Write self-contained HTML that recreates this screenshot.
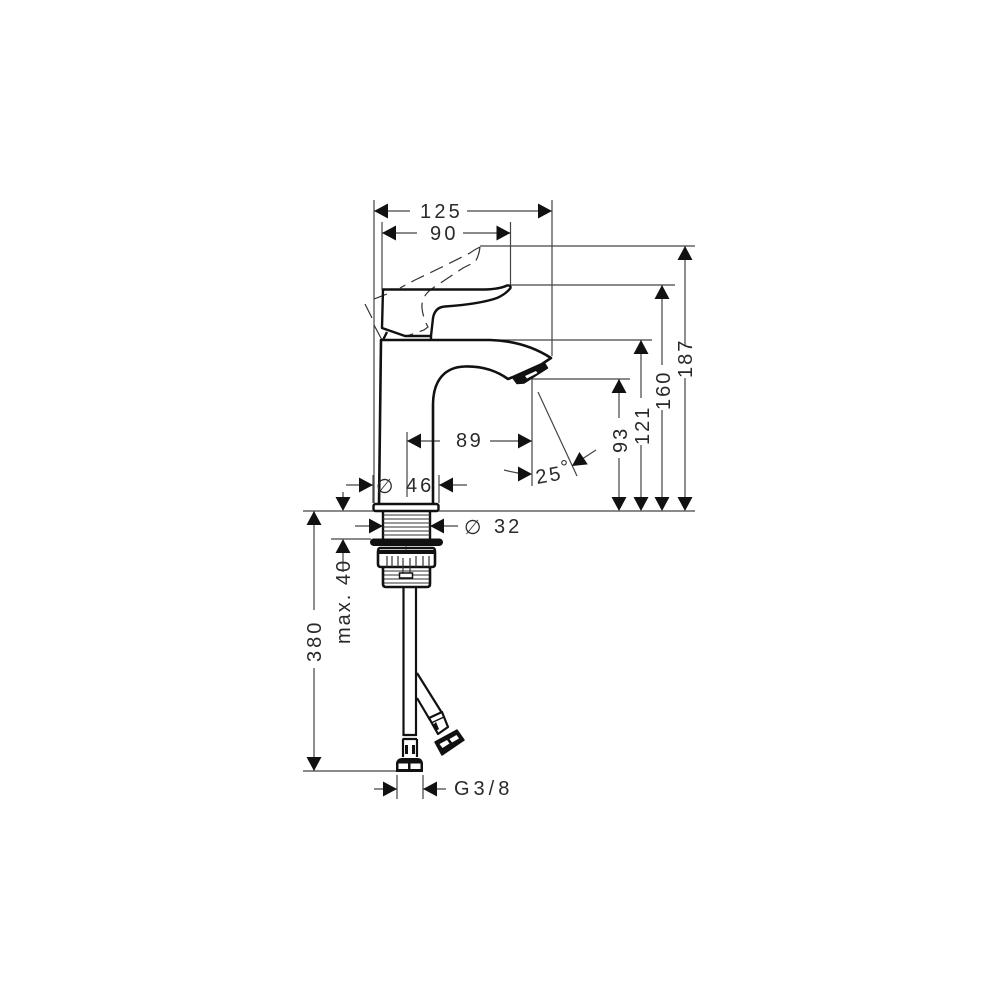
<!DOCTYPE html>
<html><head><meta charset="utf-8"><style>
html,body{margin:0;padding:0;background:#fff}
svg{display:block}
text{font-family:"Liberation Sans",sans-serif;font-size:20px;fill:#2a2a2a}
</style></head><body>
<svg width="1000" height="1000" viewBox="0 0 1000 1000" xmlns="http://www.w3.org/2000/svg">
<defs>
<path id="r" d="M0 0L-14 -7.500V7.500Z" fill="#111"/>
</defs>
<!-- thin extension and dim lines -->
<g stroke="#444" stroke-width="1.200" fill="none">
<path d="M374 200V503M552 200V356M382 222V290M510.500 222V285"/>
<path d="M374 211H410M467 211H552M382 233H417M463 233H510"/>
<path d="M480 246H695M510 285H675M430 340H652M532 379H630"/>
<path d="M685 246V346M685 378V497M662 285V365M662 410V497M641 340V398M641 445V497M619 379V418M619 458V497"/>
<path d="M303 511H695"/>
<path d="M314 511V610M314 668V771M303 771H396M331 539H371"/>
<path d="M407 432V497M532 379V486M407 441H440M490 441H532"/>
<path d="M346 485H373M439 485H467M373 475V503M439 475V503"/>
<path d="M355 526H383M430 526H458M343 492V500M343 552V572"/>
<path d="M374 789H397M423 789H446M397 775V799M423 775V799"/>
<path d="M504 470Q515 473 525 474M538 392L577 476M596 450L576 463"/>
</g>
<!-- arrows -->
<g>
<use href="#r" transform="translate(374,211) rotate(180)"/>
<use href="#r" transform="translate(552,211)"/>
<use href="#r" transform="translate(382,233) rotate(180)"/>
<use href="#r" transform="translate(510.500,233)"/>
<use href="#r" transform="translate(685,246) rotate(-90)"/>
<use href="#r" transform="translate(685,511) rotate(90)"/>
<use href="#r" transform="translate(662,285) rotate(-90)"/>
<use href="#r" transform="translate(662,511) rotate(90)"/>
<use href="#r" transform="translate(641,340) rotate(-90)"/>
<use href="#r" transform="translate(641,511) rotate(90)"/>
<use href="#r" transform="translate(619,379) rotate(-90)"/>
<use href="#r" transform="translate(619,511) rotate(90)"/>
<use href="#r" transform="translate(407,441) rotate(180)"/>
<use href="#r" transform="translate(532,441)"/>
<use href="#r" transform="translate(532,474)"/>
<use href="#r" transform="translate(572,466) rotate(146)"/>
<use href="#r" transform="translate(373,485)"/>
<use href="#r" transform="translate(439,485) rotate(180)"/>
<use href="#r" transform="translate(383,526)"/>
<use href="#r" transform="translate(430,526) rotate(180)"/>
<use href="#r" transform="translate(343,511) rotate(90)"/>
<use href="#r" transform="translate(343,539) rotate(-90)"/>
<use href="#r" transform="translate(314,511) rotate(-90)"/>
<use href="#r" transform="translate(314,771) rotate(90)"/>
<use href="#r" transform="translate(397,789)"/>
<use href="#r" transform="translate(423,789) rotate(180)"/>
</g>
<!-- dashed handle -->
<g stroke="#333" stroke-width="1.200" fill="none" stroke-dasharray="14 7">
<path d="M480 247Q474 250 470 253L440 268L415 280L400 288"/>
<path d="M387 294L374 299"/>
<path d="M480 247Q479 256 475 262L463 268L433 288Q421 296 422 308Q423 318 428 327L424 330L407 336"/>
<path d="M365 304L372 318" stroke-dasharray="16 0"/>
<path d="M374 325L382 340" stroke-dasharray="16 0"/>
</g>
<!-- faucet -->
<g stroke="#111" stroke-width="2.400" fill="none" stroke-linejoin="round">
<path d="M383 289.500H485Q500 289 507 285.500Q511 285 510.500 288Q506 294 497 298Q480 304 445 306.500Q435 307 433 318L431 336H405L382 328Z" fill="none"/>
<path d="M387 332L383 340"/>
<path d="M379 505L381 340H490Q525 341 551 358L542 364L513 377L508 379C498 372 485 366 465 366.500C445 367 433 380 433 405V505" stroke-width="2.600"/>
<path d="M431 336V340"/>
<rect x="373.500" y="504" width="65" height="7" rx="2"/>
<path d="M383 511V539M430 511V539"/>
</g>
<!-- aerator -->
<path d="M513 378L545 364L547.500 368L524 383L517 383.500Z" fill="#111" stroke="#111" stroke-width="1.500" stroke-linejoin="round"/>
<path d="M525 376L536 371L537.500 373L527 378.500Z" fill="#fff"/>
<g stroke="#333" stroke-width="1">
<path d="M383 515H430M383 519H430M383 523H430M383 527H430M383 531H430M383 535H430"/>
<path d="M384 575H429M384 579H429M384 583H429M384 571H429"/>
</g>
<rect x="370" y="538.500" width="73" height="7.500" rx="3.700" fill="#111"/>
<circle cx="406" cy="548" r="1.500" fill="#111"/>
<g stroke="#111" stroke-width="2.600" fill="none" stroke-linejoin="round">
<path d="M380 548H433Q435 548 435 552V564Q435 567 432 567H381Q378 567 378 564V552Q378 548 380 548Z"/>
<path d="M383 567V584Q383 587 386 587H427Q430 587 430 584V567"/>
<path d="M379 552H434" stroke-width="4"/>
</g>
<g stroke="#333" stroke-width="1.200" fill="none">
<path d="M387 556V567M392 556V567M398 556V567M416 556V567M423 556V567M429 556V567"/>
<path d="M403 558V574H410V558"/>
</g>
<rect x="399.500" y="573" width="13" height="5" fill="#fff" stroke="#111" stroke-width="1.500"/>
<!-- hoses -->
<g stroke="#111" stroke-width="2.200" fill="none" stroke-linejoin="round">
<path d="M403.500 587V736M416 587V736"/>
<path d="M417 673L442 713M417 698L430 720"/>
<path d="M403 735H416.500M402.500 739H417M403 739V757M417 739V757"/>
<path d="M429 718L442 712L448 727L438 734Z"/>
<path d="M431 723L444 717" stroke-width="1.500"/>
</g>
<!-- straight connector nut -->
<path d="M396 772V763Q397 758 402 758H418Q422 758 423 763V772Z" fill="#111"/>
<rect x="398.500" y="763.500" width="9.500" height="5.500" fill="#fff"/>
<rect x="410.500" y="763.500" width="10" height="5.500" fill="#fff"/>
<!-- angled connector nut -->
<path d="M435 742L457 730L464 740L442 755Z" fill="#111" stroke="#111" stroke-width="1.500" stroke-linejoin="round"/>
<path d="M439.500 744L447 740L449.500 743.500L442.500 748Z" fill="#fff"/>
<path d="M449.500 739L456.500 735L459 738.500L452 742.500Z" fill="#fff"/>
<g fill="#111">
<rect x="405" y="745" width="3" height="9"/>
<rect x="412" y="745" width="3" height="9"/>
<path d="M436 722L439 729L436 731L433 725Z"/>
</g>
<!-- labels -->
<text x="420" y="218" letter-spacing="3.200">125</text>
<text x="430" y="240" letter-spacing="3.200">90</text>
<text x="456" y="447" letter-spacing="2.500">89</text>
<text x="376" y="493" font-size="24">∅</text>
<text x="406" y="492" letter-spacing="3">46</text>
<text x="464" y="534" font-size="24">∅</text>
<text x="494" y="533" letter-spacing="3">32</text>
<text x="454" y="795" letter-spacing="4">G3/8</text>
<text x="537" y="484" letter-spacing="2.500" transform="rotate(-10 537 484)">25</text>
<text x="560" y="474" font-size="13">°</text>
<text transform="translate(627,453) rotate(-90)" letter-spacing="2">93</text>
<text transform="translate(649,445) rotate(-90)" letter-spacing="2">121</text>
<text transform="translate(670,410) rotate(-90)" letter-spacing="2">160</text>
<text transform="translate(692,378) rotate(-90)" letter-spacing="2">187</text>
<text transform="translate(321,662) rotate(-90)" letter-spacing="3">380</text>
<text transform="translate(350,644) rotate(-90)" letter-spacing="2" font-size="18">max. 40</text>
</svg>
</body></html>
